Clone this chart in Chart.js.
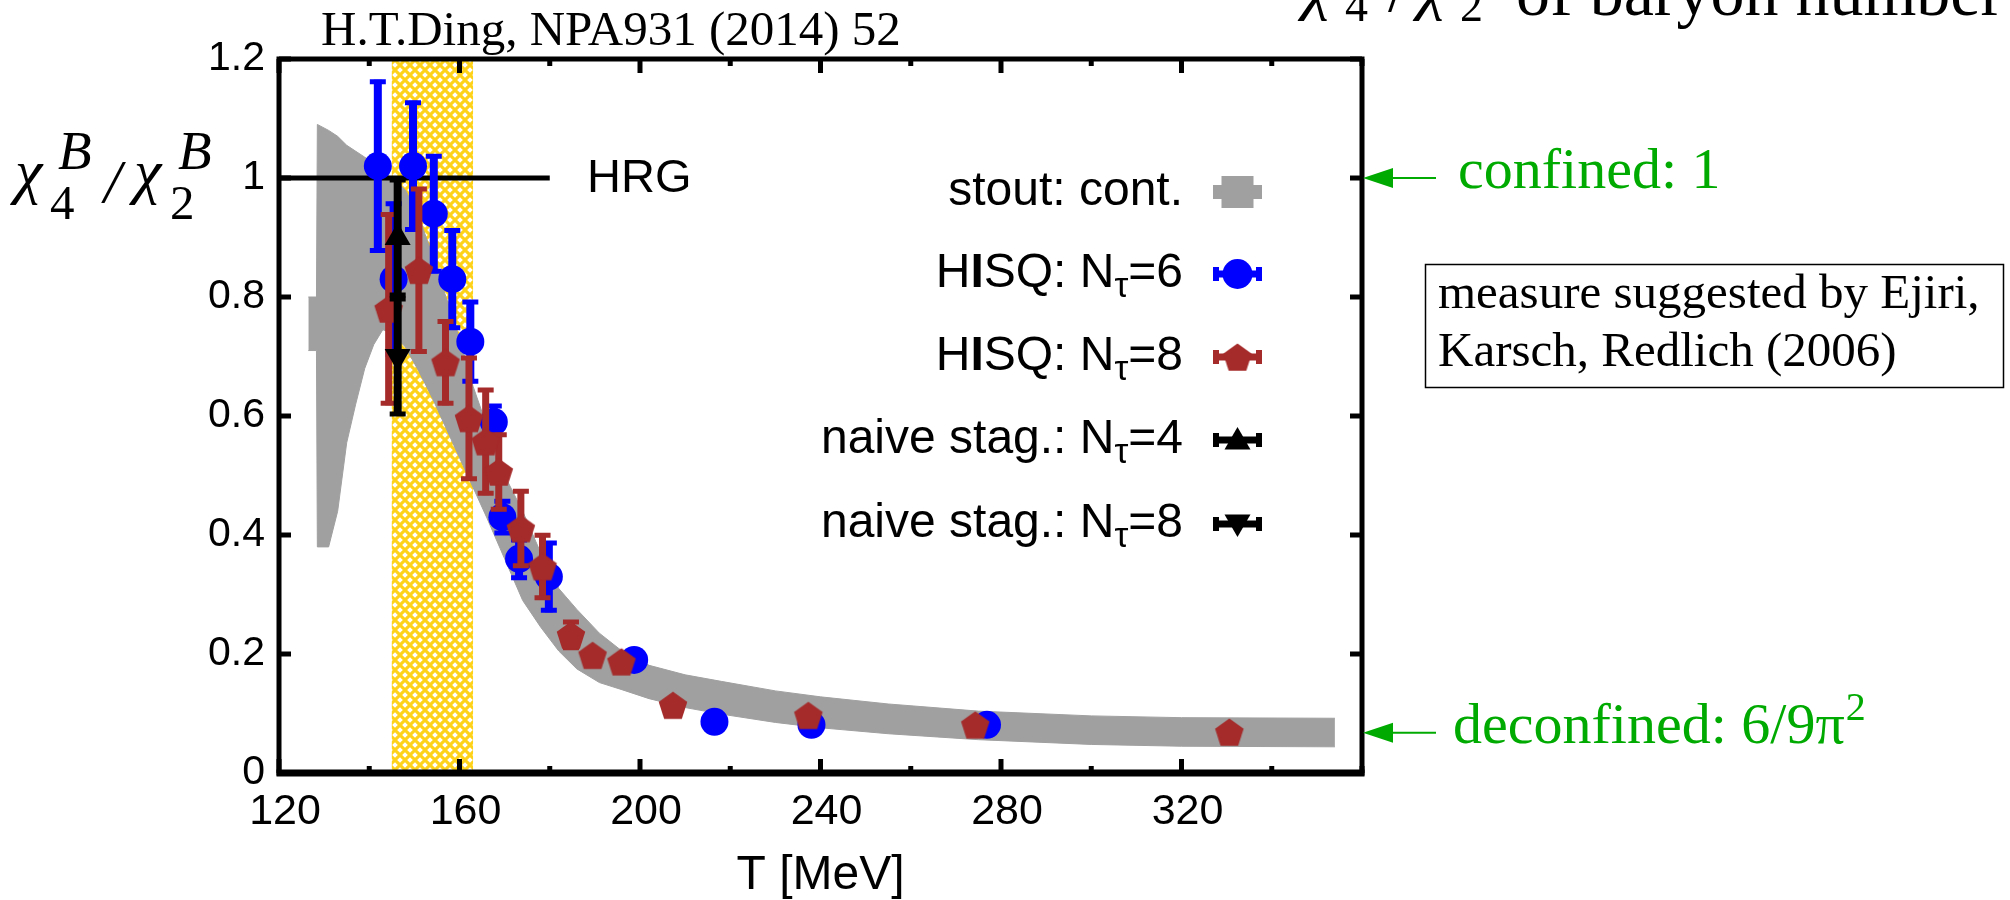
<!DOCTYPE html>
<html>
<head>
<meta charset="utf-8">
<script src="https://cdn.jsdelivr.net/npm/chart.js@4.4.1/dist/chart.umd.min.js"></script>
<style>
html, body { margin: 0; padding: 0; background: #fff; }
</style>
</head>
<body>
<canvas id="grafica" width="2010" height="900"></canvas>
<script>
// stout continuum band: lower / upper edge
const bandT  = [126.5, 128.3, 128.5, 131, 133, 135, 137, 139, 141, 143, 145, 148, 151, 154, 157, 160, 163, 166, 170, 174, 178, 182, 186, 191, 196, 202, 210, 218, 230, 240, 255, 275, 300, 320, 354];
const bandLo = [0.71, 0.71, 0.38, 0.38, 0.44, 0.555, 0.62, 0.68, 0.72, 0.745, 0.74, 0.716, 0.675, 0.63, 0.58, 0.53, 0.48, 0.43, 0.36, 0.29, 0.245, 0.205, 0.175, 0.152, 0.14, 0.125, 0.11, 0.099, 0.085, 0.076, 0.066, 0.056, 0.048, 0.045, 0.044];
const bandHi = [0.80, 0.80, 1.09, 1.08, 1.07, 1.055, 1.045, 1.035, 1.025, 1.01, 1.0, 0.98, 0.935, 0.87, 0.80, 0.73, 0.65, 0.585, 0.50, 0.44, 0.37, 0.31, 0.275, 0.235, 0.205, 0.181, 0.165, 0.154, 0.138, 0.128, 0.116, 0.104, 0.096, 0.093, 0.092];

// HISQ Ntau=6
const hisq6T   = [141.9, 145.4, 149.7, 154.3, 158.4, 162.4, 167.6, 169.5, 173.2, 179.8, 198.7, 216.5, 238.0, 276.9];
const hisq6V   = [1.02, 0.83, 1.02, 0.94, 0.83, 0.725, 0.59, 0.43, 0.36, 0.33, 0.19, 0.086, 0.081, 0.081];
const hisq6Err = [0.145, 0.13, 0.11, 0.10, 0.085, 0.07, 0.03, 0.03, 0.035, 0.06, 0, 0, 0, 0];

// HISQ Ntau=8
const hisq8T   = [144.3, 151.0, 156.9, 162.1, 165.8, 168.7, 173.6, 178.4, 184.7, 189.5, 195.9, 207.3, 237.3, 274.3, 330.6];
const hisq8V   = [0.78, 0.845, 0.69, 0.596, 0.557, 0.506, 0.411, 0.347, 0.232, 0.198, 0.187, 0.114, 0.097, 0.081, 0.069];
const hisq8Err = [0.162, 0.14, 0.072, 0.105, 0.09, 0.066, 0.066, 0.056, 0.025, 0, 0, 0, 0, 0, 0];

// naive staggered
const naive4T = [146.3], naive4V = [0.9], naive4Err = [0.1];
const naive8T = [146.3], naive8V = [0.7], naive8Err = [0.1];

// HRG limit and Tc band
const hrgT = [120, 180], hrgV = [1, 1];
const tcBand = [145, 163];
const deconfined = 6 / (9 * Math.PI * Math.PI);

const xTicks = [120, 160, 200, 240, 280, 320];

const pts = (xs, ys) => xs.map((x, i) => ({ x: x, y: ys[i] }));

const SANS = "'Liberation Sans', Arial, sans-serif";
const SERIF = "'Liberation Serif', 'Times New Roman', serif";
const GRAY = '#a0a0a0', BLUE = '#0000ff', BROWN = '#a52a2a', GREEN = '#00aa00';

function makePentagon(r, color) {
    const c = document.createElement('canvas');
    const s = Math.ceil(2 * r + 2);
    c.width = c.height = s;
    const g = c.getContext('2d');
    g.fillStyle = color;
    g.beginPath();
    for (let k = 0; k < 5; k++) {
        const a = -Math.PI / 2 + k * 2 * Math.PI / 5;
        const px = s / 2 + r * Math.cos(a), py = s / 2 + 1.5 + r * Math.sin(a);
        k ? g.lineTo(px, py) : g.moveTo(px, py);
    }
    g.closePath();
    g.fill();
    return c;
}
const pentagon = makePentagon(15, BROWN);

function makeHatch() {
    const c = document.createElement('canvas');
    c.width = c.height = 10;
    const g = c.getContext('2d');
    g.fillStyle = '#ffd21a';
    g.fillRect(0, 0, 10, 10);
    g.fillStyle = '#fff';
    const dia = (cx, cy, d) => { g.beginPath(); g.moveTo(cx, cy - d); g.lineTo(cx + d, cy); g.lineTo(cx, cy + d); g.lineTo(cx - d, cy); g.closePath(); g.fill(); };
    dia(5, 5, 2.8);
    [[0, 0], [10, 0], [0, 10], [10, 10]].forEach(p => dia(p[0], p[1], 2.8));
    return c;
}

// yellow Tc band under everything
const tcPlugin = {
    id: 'tcBand',
    beforeDatasetsDraw(chart) {
        const { ctx, chartArea: a, scales: { x } } = chart;
        ctx.save();
        ctx.fillStyle = ctx.createPattern(makeHatch(), 'repeat');
        const x0 = x.getPixelForValue(tcBand[0]), x1 = x.getPixelForValue(tcBand[1]);
        ctx.fillRect(x0, a.top, x1 - x0, a.bottom - a.top);
        ctx.restore();
    }
};

// error bars, drawn just before each dataset's markers
const errorBars = {
    id: 'errorBars',
    beforeDatasetDraw(chart, args) {
        const ds = chart.data.datasets[args.index];
        if (!ds.err) return;
        const { ctx, scales: { x, y } } = chart;
        ctx.save();
        ctx.strokeStyle = ds.errColor;
        ds.data.forEach((p, i) => {
            const e = ds.err[i];
            if (!e) return;
            const px = x.getPixelForValue(p.x);
            const top = y.getPixelForValue(p.y + e), bot = y.getPixelForValue(p.y - e);
            ctx.lineWidth = ds.errWidth;
            ctx.beginPath(); ctx.moveTo(px, top); ctx.lineTo(px, bot); ctx.stroke();
            ctx.lineWidth = 5;
            ctx.beginPath();
            ctx.moveTo(px - 8, top + 2); ctx.lineTo(px + 8, top + 2);
            ctx.moveTo(px - 8, bot - 2); ctx.lineTo(px + 8, bot - 2);
            ctx.stroke();
        });
        ctx.restore();
    }
};

// gnuplot style frame with inward ticks
const frame = {
    id: 'frame',
    afterDatasetsDraw(chart) {
        const { ctx, chartArea: a, scales: { x, y } } = chart;
        const line = (x0, y0, x1, y1) => { ctx.beginPath(); ctx.moveTo(x0, y0); ctx.lineTo(x1, y1); ctx.stroke(); };
        ctx.save();
        ctx.strokeStyle = '#000';
        ctx.lineWidth = 5;
        y.ticks.forEach(t => {
            const py = y.getPixelForValue(t.value);
            line(a.left, py, a.left + 12, py);
            line(a.right, py, a.right - 12, py);
        });
        x.ticks.forEach(t => {
            const px = x.getPixelForValue(t.value);
            const len = xTicks.includes(t.value) ? 14 : 7;
            line(px, a.bottom, px, a.bottom - len);
            line(px, a.top, px, a.top + len);
        });
        ctx.strokeRect(a.left, a.top, a.right - a.left, a.bottom - a.top);
        ctx.lineWidth = 7;
        line(a.left - 2.5, a.bottom, a.right + 2.5, a.bottom);
        ctx.restore();
    }
};

// key label: right aligned, subscript tau, heavy "I" in HISQ
function keyText(ctx, text, xRight, yMid, size) {
    const big = size + 'px ' + SANS, bold = 'bold ' + size + 'px ' + SANS, small = Math.round(size * 0.72) + 'px ' + SANS;
    const segs = [];
    const parts = text.split('τ');
    if (parts[0].startsWith('HISQ')) {
        segs.push(['H', big, 0], ['I', bold, 0], [parts[0].slice(2), big, 0]);
    } else {
        segs.push([parts[0], big, 0]);
    }
    if (parts.length > 1) segs.push(['τ', small, 13], [parts[1], big, 0]);
    let total = 0;
    segs.forEach(s => { ctx.font = s[1]; s.push(ctx.measureText(s[0]).width); total += s[3]; });
    let xx = xRight - total;
    ctx.textAlign = 'left';
    ctx.textBaseline = 'middle';
    segs.forEach(s => { ctx.font = s[1]; ctx.fillText(s[0], xx, yMid + s[2]); xx += s[3]; });
}

function triangle(ctx, cx, cy, r, down) {
    ctx.beginPath();
    for (let k = 0; k < 3; k++) {
        const a = (down ? Math.PI : 0) + k * 2 * Math.PI / 3;
        const px = cx + Math.sin(a) * r, py = cy - Math.cos(a) * r;
        k ? ctx.lineTo(px, py) : ctx.moveTo(px, py);
    }
    ctx.closePath();
    ctx.fill();
}

const annotations = {
    id: 'annotations',
    afterDraw(chart) {
        const { ctx, scales: { x, y }, chartArea: a } = chart;
        ctx.save();
        ctx.fillStyle = '#000';

        // source line
        ctx.font = '49px ' + SERIF;
        ctx.textAlign = 'left';
        ctx.textBaseline = 'alphabetic';
        ctx.fillText('H.T.Ding, NPA931 (2014) 52', 321, 45);

        // cut off slide heading at the top right
        ctx.font = 'italic 66px ' + SERIF;
        ctx.fillText('χ', 1303, 7);
        ctx.fillText('χ', 1418, 7);
        ctx.font = '66px ' + SERIF;
        ctx.fillText('/', 1388, 11);
        ctx.font = '46px ' + SERIF;
        ctx.fillText('4', 1345, 21);
        ctx.fillText('2', 1460, 21);
        ctx.font = '68px ' + SERIF;
        ctx.fillText('of baryon number', 1516, 15);

        // y axis title chi_4^B / chi_2^B
        ctx.font = 'italic 62px ' + SERIF;
        ctx.fillText('χ', 15, 192);
        ctx.fillText('χ', 134, 192);
        ctx.fillText('/', 104, 202);
        ctx.font = '49px ' + SERIF;
        ctx.fillText('4', 50, 219);
        ctx.fillText('2', 170, 219);
        ctx.font = 'italic 55px ' + SERIF;
        ctx.fillText('B', 58, 169);
        ctx.fillText('B', 178, 169);

        // HRG label
        ctx.font = '47px ' + SANS;
        ctx.textBaseline = 'middle';
        ctx.fillText('HRG', 587, y.getPixelForValue(1) + 1);

        // key
        const rows = [192, 274, 357, 440, 524];
        const ds = chart.data.datasets;
        const keyOrder = [1, 3, 4, 5, 6];
        const sx0 = 1213, sx1 = 1262, scx = (sx0 + sx1) / 2;
        keyOrder.forEach((di, r) => {
            const cy = rows[r];
            ctx.fillStyle = '#000';
            keyText(ctx, ds[di].label, 1183, cy, 48);
            if (r === 0) {
                ctx.fillStyle = GRAY;
                ctx.fillRect(sx0, cy - 7, sx1 - sx0, 14);
                ctx.fillRect(scx - 16, cy - 16, 32, 32);
                return;
            }
            const col = ds[di].errColor;
            ctx.fillStyle = col;
            ctx.fillRect(sx0, cy - 3.5, sx1 - sx0, 7);
            ctx.fillRect(sx0, cy - 7, 6, 14);
            ctx.fillRect(sx1 - 6, cy - 7, 6, 14);
            if (r === 1) { ctx.beginPath(); ctx.arc(scx, cy, 15, 0, 2 * Math.PI); ctx.fill(); }
            if (r === 2) ctx.drawImage(pentagon, scx - pentagon.width / 2, cy - pentagon.height / 2);
            if (r === 3) triangle(ctx, scx, cy + 2, 15, false);
            if (r === 4) triangle(ctx, scx, cy - 2, 15, true);
        });

        // green limit markers
        ctx.fillStyle = GREEN;
        ctx.strokeStyle = GREEN;
        ctx.lineWidth = 2;
        [1, deconfined].forEach(v => {
            const py = y.getPixelForValue(v);
            ctx.beginPath(); ctx.moveTo(1436, py); ctx.lineTo(1390, py); ctx.stroke();
            ctx.beginPath(); ctx.moveTo(a.right + 1, py); ctx.lineTo(1393, py - 10); ctx.lineTo(1393, py + 10); ctx.closePath(); ctx.fill();
        });
        ctx.textBaseline = 'alphabetic';
        ctx.font = '58px ' + SERIF;
        ctx.fillText('confined: 1', 1458, 188);
        const dtxt = 'deconfined: 6/9π';
        ctx.fillText(dtxt, 1453, 743);
        const dw = ctx.measureText(dtxt).width;
        ctx.font = '40px ' + SERIF;
        ctx.fillText('2', 1453 + dw + 1, 720);

        // reference box
        ctx.strokeStyle = '#000';
        ctx.lineWidth = 1.5;
        ctx.strokeRect(1425.5, 264.5, 578, 123);
        ctx.fillStyle = '#000';
        ctx.font = '49px ' + SERIF;
        ctx.fillText('measure suggested by Ejiri,', 1438, 308);
        ctx.fillText('Karsch, Redlich (2006)', 1438, 366);
        ctx.restore();
    }
};

const data = {
    datasets: [
        { type: 'line', label: 'band low', data: pts(bandT, bandLo), borderColor: GRAY, borderWidth: 1, pointRadius: 0, fill: false, order: 7 },
        { type: 'line', label: 'stout: cont.', data: pts(bandT, bandHi), borderColor: GRAY, borderWidth: 1, pointRadius: 0, fill: '-1', backgroundColor: GRAY, order: 6 },
        { type: 'line', label: 'HRG', data: pts(hrgT, hrgV), borderColor: '#000', borderWidth: 5, pointRadius: 0, fill: false, order: 5 },
        { label: 'HISQ: Nτ=6', data: pts(hisq6T, hisq6V), err: hisq6Err, errColor: BLUE, errWidth: 8,
          pointStyle: 'circle', pointRadius: 14, backgroundColor: BLUE, borderWidth: 0, order: 4 },
        { label: 'HISQ: Nτ=8', data: pts(hisq8T, hisq8V), err: hisq8Err, errColor: BROWN, errWidth: 7,
          pointStyle: pentagon, backgroundColor: BROWN, borderWidth: 0, order: 3 },
        { label: 'naive stag.: Nτ=4', data: pts(naive4T, naive4V), err: naive4Err, errColor: '#000', errWidth: 8,
          pointStyle: 'triangle', pointRadius: 15, backgroundColor: '#000', borderWidth: 0, order: 2 },
        { label: 'naive stag.: Nτ=8', data: pts(naive8T, naive8V), err: naive8Err, errColor: '#000', errWidth: 8,
          pointStyle: 'triangle', rotation: 180, pointRadius: 15, backgroundColor: '#000', borderWidth: 0, order: 1 }
    ]
};

const config = {
    type: 'scatter',
    data: data,
    options: {
        responsive: false,
        animation: false,
        layout: { padding: { left: 0, right: 648, top: 59, bottom: 0 } },
        plugins: { legend: { display: false }, tooltip: { enabled: false } },
        elements: { line: { tension: 0 } },
        scales: {
            x: {
                type: 'linear', min: 120, max: 360,
                afterFit: s => { s.height = 127; },
                grid: { display: false, drawTicks: false },
                border: { display: false },
                ticks: {
                    stepSize: 20, autoSkip: false, maxRotation: 0, padding: 13, labelOffset: 6,
                    color: '#000', font: { family: SANS, size: 43 },
                    callback: v => xTicks.includes(v) ? String(v) : ''
                },
                title: { display: true, text: 'T [MeV]', color: '#000', font: { family: SANS, size: 48, lineHeight: 1 }, padding: { top: 0, bottom: 0 } }
            },
            y: {
                min: 0, max: 1.2,
                afterFit: s => { s.width = 279; },
                grid: { display: false, drawTicks: false },
                border: { display: false },
                ticks: {
                    stepSize: 0.2, padding: 14, color: '#000', font: { family: SANS, size: 41 },
                    callback: v => String(Number(v.toFixed(1)))
                }
            }
        }
    },
    plugins: [tcPlugin, errorBars, frame, annotations]
};

const graph = document.querySelector('#grafica');
new Chart(graph, config);
</script>
</body>
</html>
